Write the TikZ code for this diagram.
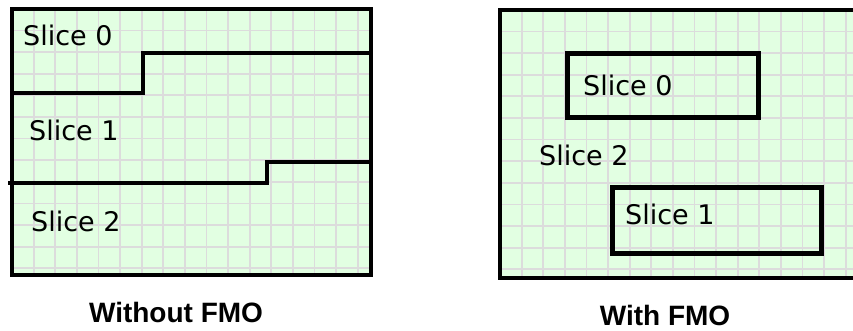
\documentclass[tikz,border=0pt]{standalone}
\usepackage{fontspec}
\setmainfont{DejaVu Sans}
\newfontfamily\capfont{Liberation Sans}

\begin{document}
\begin{tikzpicture}[x=1pt, y=-1pt, line join=miter]
  \definecolor{mint}{HTML}{E2FFE2}
  \definecolor{gridgray}{HTML}{DCDCDC}
  \tikzset{
    gridline/.style={draw=gridgray, line width=1.8pt},
    panel/.style={draw=black, line width=4pt},
    stair/.style={draw=black, line width=3.6pt},
    slicebox/.style={draw=black, line width=5pt, inner sep=0pt},
    slicelabel/.style={anchor=base west, inner sep=0pt, font=\fontsize{27}{30}\selectfont},
    caption/.style={anchor=base, inner sep=0pt, font=\capfont\bfseries\fontsize{28}{32}\selectfont}
  }
  \useasboundingbox (0,0) rectangle (853,331);
  \clip (0,0) rectangle (853,331);

  % without FMO
  \coordinate (LA) at (12,9);
  \coordinate (LB) at (371,275);
  \fill[mint] (LA) rectangle (LB);
  \foreach \i in {1,...,16} \draw[gridline] (12+21.6*\i,9) -- (12+21.6*\i,275);
  \foreach \j in {1,...,12} \draw[gridline] (12,9+21.6*\j) -- (371,9+21.6*\j);
  \draw[panel] (LA) rectangle (LB);

  \coordinate (s01a) at (12,93);
  \coordinate (s01b) at (143,93);
  \coordinate (s01c) at (143,53);
  \coordinate (s01d) at (371,53);
  \draw[stair] (s01a) -- (s01b) -- (s01c) -- (s01d);
  \coordinate (s12a) at (8,183);
  \coordinate (s12b) at (267,183);
  \coordinate (s12c) at (267,162);
  \coordinate (s12d) at (371,162);
  \draw[stair] (s12a) -- (s12b) -- (s12c) -- (s12d);

  \node[slicelabel] (left0) at (23,46) {Slice 0};
  \node[slicelabel] (left1) at (29,141) {Slice 1};
  \node[slicelabel] (left2) at (31,231) {Slice 2};
  \node[caption] (without) at (176,322) {Without FMO};

  % with FMO
  \coordinate (RA) at (500,10);
  \coordinate (RB) at (858,278);
  \fill[mint] (RA) rectangle (RB);
  \foreach \i in {1,...,16} \draw[gridline] (500+21.6*\i,10) -- (500+21.6*\i,278);
  \foreach \j in {1,...,12} \draw[gridline] (500,10+21.6*\j) -- (858,10+21.6*\j);
  \draw[panel] (RA) rectangle (RB);

  \node[slicebox, minimum width=191pt, minimum height=64pt] (box0) at (662.5,86) {};
  \node[slicebox, minimum width=209pt, minimum height=66pt] (box1) at (716.5,220) {};
  \node[slicelabel] (right0) at (583,96) {Slice 0};
  \node[slicelabel] (right2) at (539,166) {Slice 2};
  \node[slicelabel] (right1) at (625,224) {Slice 1};
  \node[caption] (with) at (665,325) {With FMO};
\end{tikzpicture}
\end{document}
